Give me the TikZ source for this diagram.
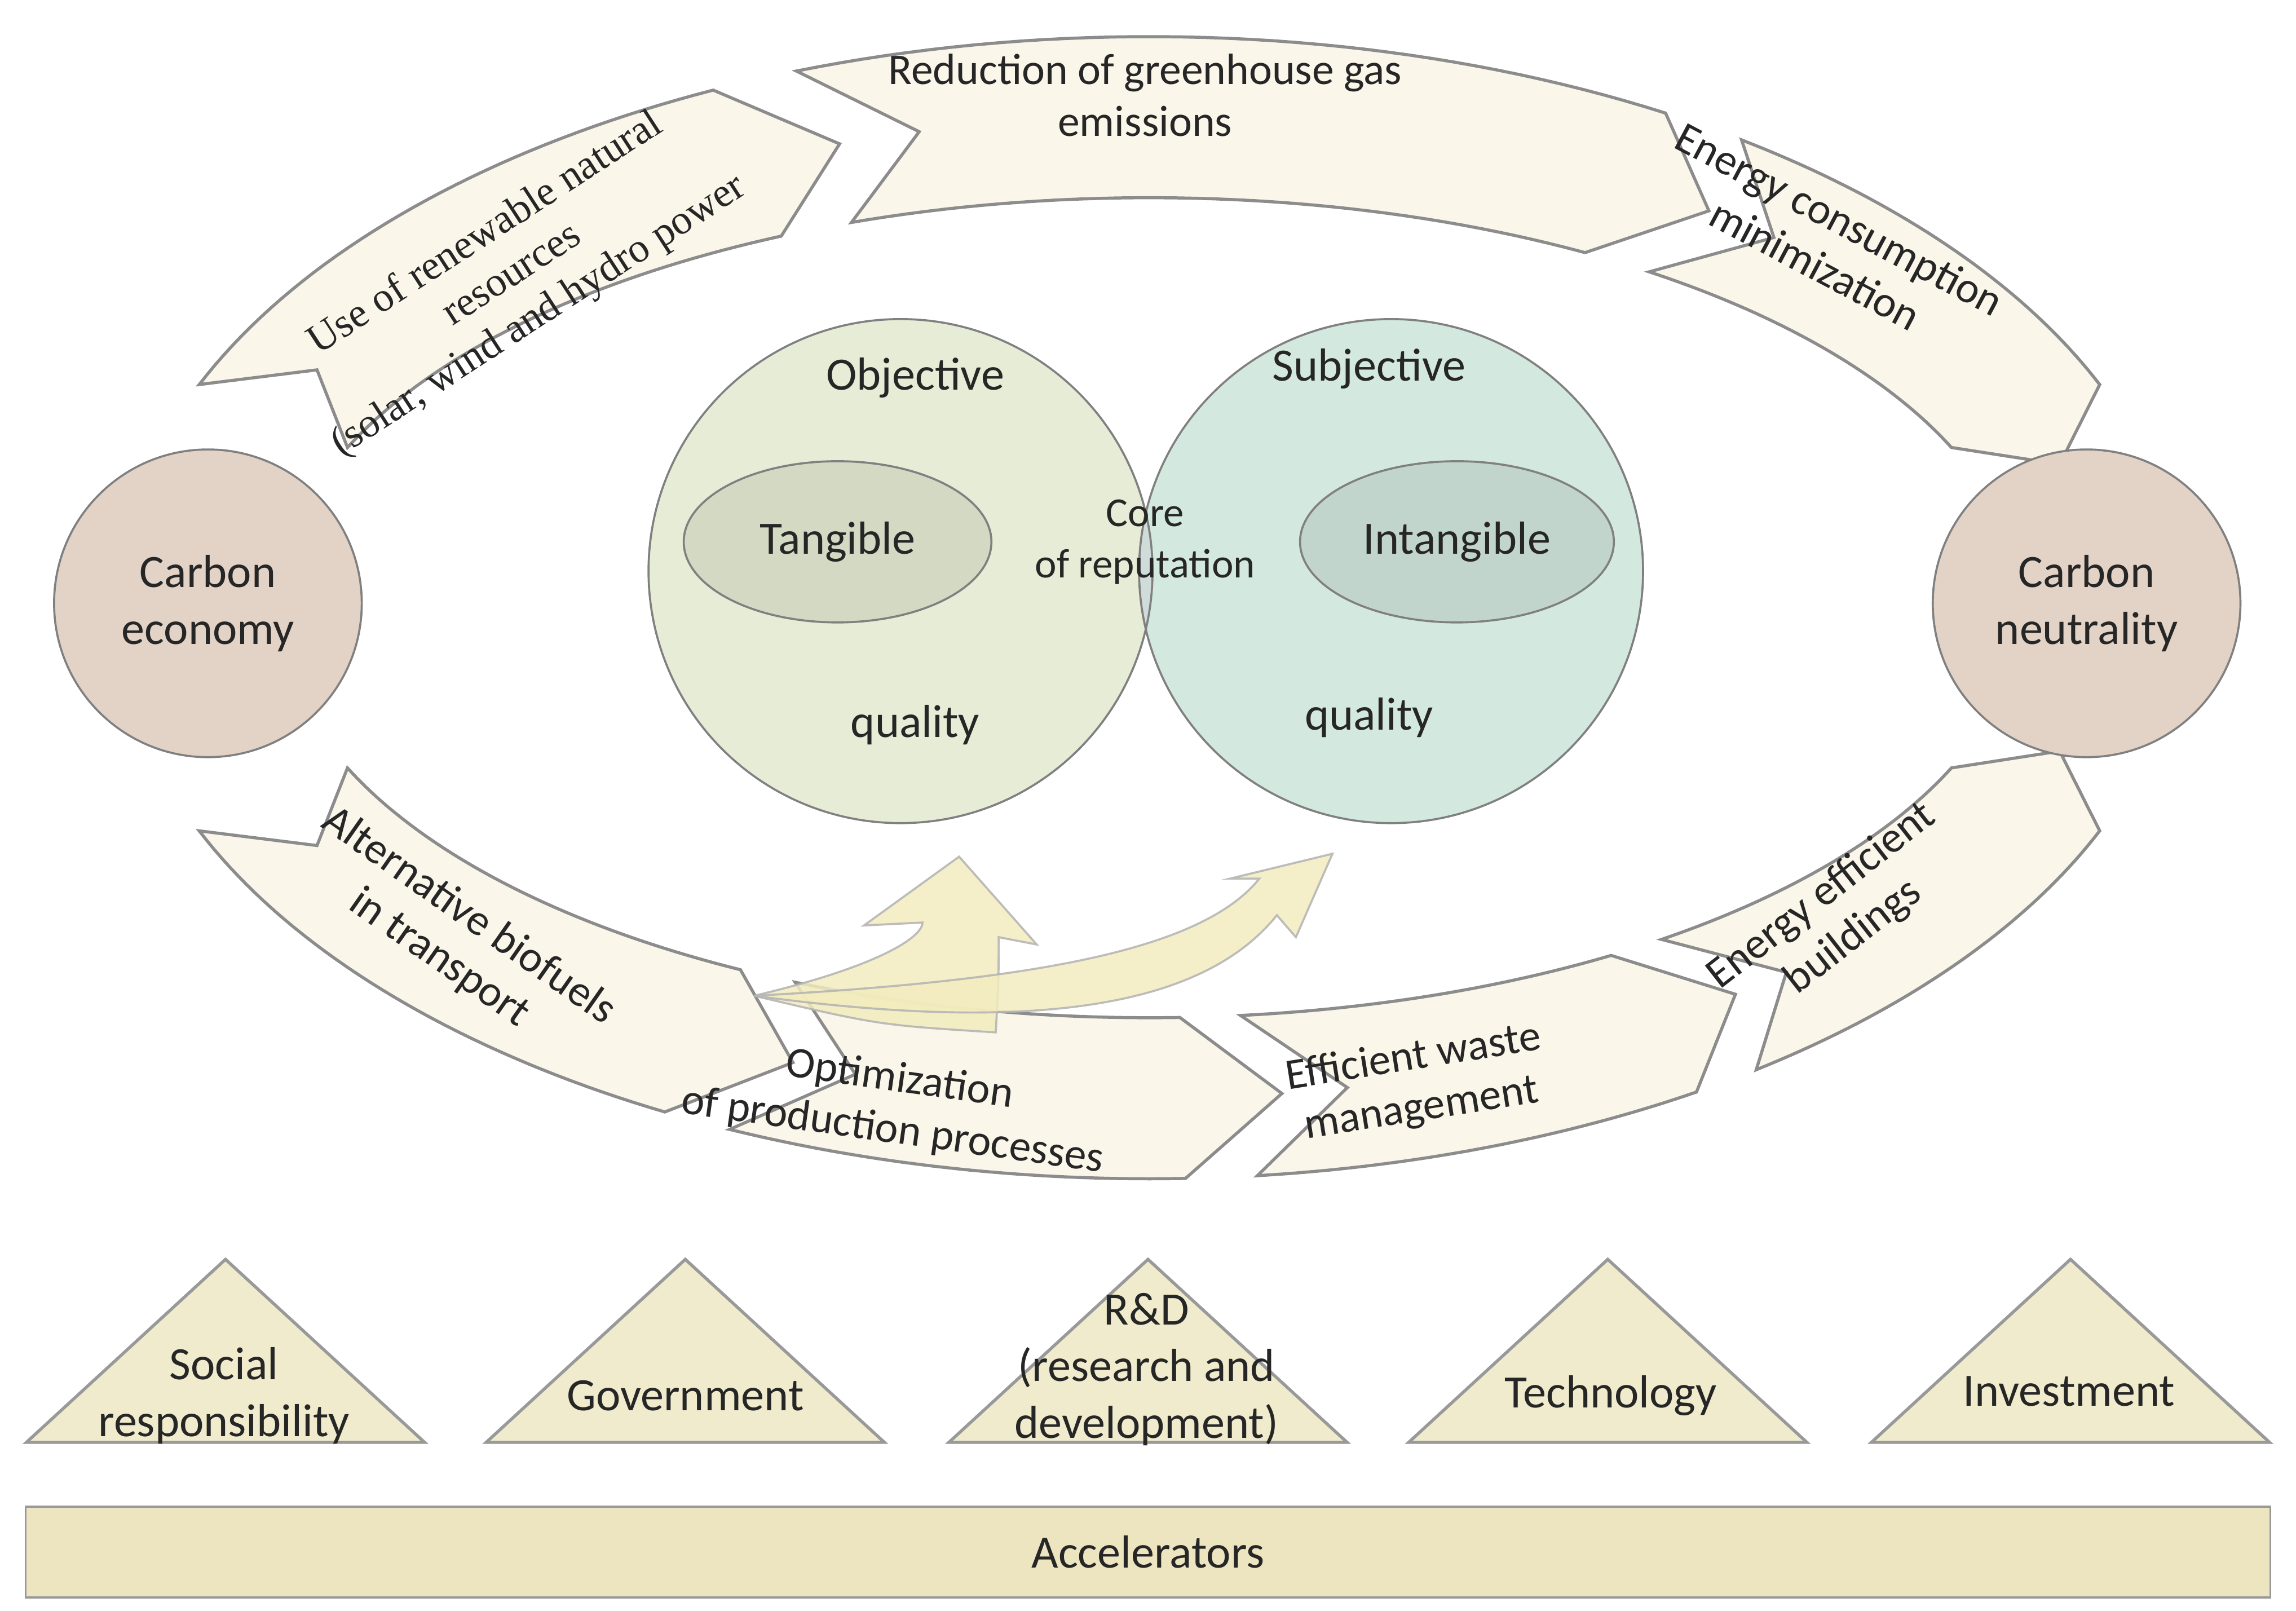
\documentclass[tikz,border=0pt]{standalone}
\usepackage{fontspec}
\usetikzlibrary{shapes.geometric}
\setmainfont{Carlito}
\newfontfamily\serifx{Liberation Serif}
\begin{document}
\begin{tikzpicture}[x=0.01cm,y=-0.01cm,
  band/.style={draw=black!45,line width=0.6pt,fill=bandc},
  lbl/.style={font=\fontsize{8.5}{10}\selectfont,align=center,text=black!85},
  tri/.style={draw=black!40,fill=tric,line width=0.6pt}]
\definecolor{bandc}{HTML}{FAF6EA}
\definecolor{tric}{HTML}{EFEBCC}
\definecolor{barc}{HTML}{EDE5C0}
\definecolor{cecol}{HTML}{E2D3C6}
\definecolor{lgreen}{HTML}{E6ECD5}
\definecolor{rgreen}{HTML}{D3E8DF}
\definecolor{corec}{HTML}{CFDCD9}
\definecolor{yarrow}{HTML}{F2ECBE}
\useasboundingbox (0,0) rectangle (1568,1100);
\def\cx{785}\def\cy{415}\def\ea{650}\def\eb{335}\def\w{55}
\newcommand{\seg}[3]{% start, end, chevron offset
  \draw[band] plot[domain=#1:#2,samples=40] ({\cx+(\ea+\w)*cos(\x)},{\cy+(\eb+\w)*sin(\x)})
   -- ({\cx+\ea*cos(#2+#3)},{\cy+\eb*sin(#2+#3)})
   -- plot[domain=#2:#1,samples=40] ({\cx+(\ea-\w)*cos(\x)},{\cy+(\eb-\w)*sin(\x)})
   -- ({\cx+\ea*cos(#1+#3)},{\cy+\eb*sin(#1+#3)}) -- cycle;}
\seg{203}{245}{6}
\seg{250}{300}{6}
\seg{305}{337}{6}
\seg{157}{118}{-6}
\seg{114}{88}{-6}
\seg{84}{58}{-6}
\seg{54}{23}{-6}
% side circles
\node[circle,draw=black!50,fill=cecol,minimum size=2.1cm,inner sep=0,lbl,font=\fontsize{9}{11}\selectfont] (ce) at (142,412) {Carbon\\economy};
\node[circle,draw=black!50,fill=cecol,minimum size=2.1cm,inner sep=0,lbl,font=\fontsize{9}{11}\selectfont] (cn) at (1425,412) {Carbon\\neutrality};
% venn
\fill[lgreen] (615,390) circle (1.72cm);
\fill[rgreen] (950,390) circle (1.72cm);
\begin{scope}\clip (615,390) circle (1.72cm); \fill[corec] (950,390) circle (1.72cm);\end{scope}
\draw[black!50] (615,390) circle (1.72cm);
\draw[black!50] (950,390) circle (1.72cm);
\node[ellipse,draw=black!50,fill=black!8!lgreen,minimum width=2.1cm,minimum height=1.1cm,lbl,font=\fontsize{9}{11}\selectfont] (tg) at (572,370) {Tangible};
\node[ellipse,draw=black!50,fill=black!8!rgreen,minimum width=2.1cm,minimum height=1.1cm,lbl,font=\fontsize{9}{11}\selectfont] (ig) at (995,370) {Intangible};
\node[lbl,font=\fontsize{9}{11}\selectfont] (ob) at (625,258) {Objective};
\node[lbl,font=\fontsize{9}{11}\selectfont] (sb) at (935,252) {Subjective};
\node[lbl,font=\fontsize{9}{11}\selectfont] (q1) at (625,495) {quality};
\node[lbl,font=\fontsize{9}{11}\selectfont] (q2) at (935,490) {quality};
\node[lbl,font=\fontsize{8}{10}\selectfont] (core) at (782,370) {Core\\of reputation};
% yellow arrows
\coordinate (ys) at (515,680);
\fill[yarrow,opacity=0.85,draw=black!30] (ys) .. controls (600,660) and (630,640) .. (630,630)
  -- (590,632) -- (655,585) -- (708,645) -- (682,640) .. controls (682,670) .. (680,705)
  .. controls (600,700) .. (ys);
\fill[yarrow,opacity=0.85,draw=black!30] (ys) .. controls (700,670) and (820,650) .. (860,600)
  -- (840,600) -- (910,583) -- (885,640) -- (872,625) .. controls (820,690) and (700,705) .. (ys);
% band labels
\node[lbl] at (782,65) {Reduction of greenhouse gas\\emissions};
\node[lbl,rotate=-28] at (1248,165) {Energy consumption\\minimization};
\node[lbl,font=\serifx\fontsize{8}{9.5}\selectfont,rotate=33] at (350,188) {Use of renewable natural\\resources\\(solar, wind and hydro power};
\node[lbl,rotate=-35] at (310,640) {Alternative biofuels\\in transport};
\node[lbl,rotate=-8] at (612,755) {Optimization\\of production processes};
\node[lbl,rotate=9] at (968,740) {Efficient waste\\management};
\node[lbl,rotate=38] at (1255,626) {Energy efficient\\buildings};
% triangles
\foreach \xa/\nm in {18/t1,332/t2,648/t3,962/t4,1278/t5}{
  \draw[tri] (\xa,985) -- (\xa+272,985) -- (\xa+136,860) -- cycle;}
\node[lbl,font=\fontsize{9}{11}\selectfont] (s1) at (153,953) {Social\\responsibility};
\node[lbl,font=\fontsize{9}{11}\selectfont] (s2) at (468,953) {Government};
\node[lbl,font=\fontsize{9}{11}\selectfont] (s3) at (783,935) {R\&D\\(research and\\development)};
\node[lbl,font=\fontsize{9}{11}\selectfont] (s4) at (1100,953) {Technology};
\node[lbl,font=\fontsize{9}{11}\selectfont] (s5) at (1413,950) {Investment};
\node[draw=black!40,fill=barc,minimum width=15.32cm,minimum height=0.62cm,lbl,font=\fontsize{9}{11}\selectfont] (acc) at (784,1060) {Accelerators};
\end{tikzpicture}
\end{document}
